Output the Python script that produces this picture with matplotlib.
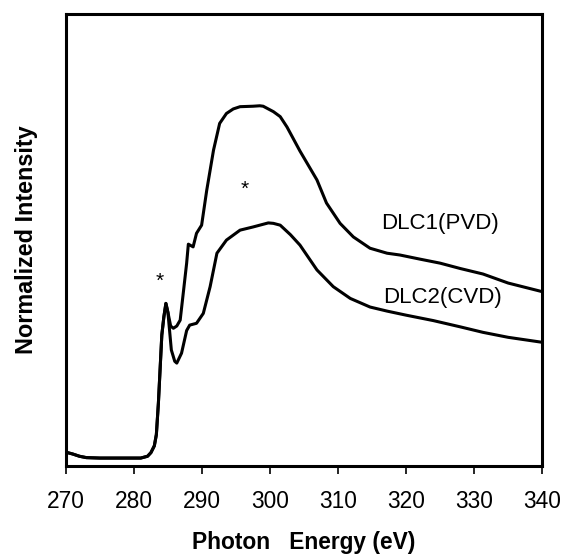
import matplotlib
matplotlib.use("Agg")
import matplotlib.pyplot as plt

plt.rcParams['font.family'] = ['Liberation Sans', 'DejaVu Sans']

# shared pre-edge and pi* peak
energy_common = [270, 271, 272, 273, 275, 278, 281, 282, 282.5, 283, 283.3,
                 283.6, 283.8, 284.1, 284.4, 284.7, 285.0]
int_common = [0.031, 0.027, 0.022, 0.019, 0.018, 0.018, 0.018, 0.022, 0.03,
              0.045, 0.07, 0.14, 0.2, 0.29, 0.33, 0.36, 0.34]

energy_pvd = [285.4, 285.8, 286.3, 286.8, 287.3, 287.75, 288.0, 288.7, 289.2,
              289.95, 290.7, 291.7, 292.6, 293.6, 294.6, 295.6, 297.5, 298.5,
              299.0, 300.5, 301.5, 302.5, 304.4, 306.9, 308.3, 310.3,
              312.25, 314.7, 317.2, 319.1, 322, 325, 328, 331.3, 335, 340]
int_pvd = [0.31, 0.305, 0.31, 0.323, 0.389, 0.449, 0.491, 0.485, 0.515,
           0.533, 0.61, 0.699, 0.758, 0.78, 0.79, 0.795, 0.796, 0.797, 0.796,
           0.784, 0.773, 0.75, 0.697, 0.633, 0.582, 0.537, 0.507,
           0.482, 0.471, 0.467, 0.458, 0.449, 0.437, 0.425, 0.405, 0.386]

energy_cvd = [285.5, 286.0, 286.3, 287.0, 287.75, 288.2, 289.2, 290.2, 291.2,
              292.2, 293.6, 295.6, 297.5, 299.75, 300.5, 301.5, 303.0, 304.4,
              306.9, 309.3, 311.8, 314.7, 317.2, 320, 324, 328, 331.3, 335,
              340]
int_cvd = [0.257, 0.232, 0.228, 0.25, 0.30, 0.312, 0.316, 0.338, 0.397,
           0.471, 0.50, 0.522, 0.529, 0.538, 0.537, 0.533, 0.512, 0.489,
           0.434, 0.397, 0.371, 0.352, 0.343, 0.334, 0.322, 0.308, 0.296,
           0.285, 0.274]

labels = ['DLC1(PVD)', 'DLC2(CVD)']
label_pos = [(325.0, 0.537), (325.4, 0.372)]
star_pos = [(283.8, 0.409), (296.3, 0.613)]
xticks = [270, 280, 290, 300, 310, 320, 330, 340]

fig = plt.figure(figsize=(5.63, 5.59), dpi=100)
ax = fig.add_axes([0.117, 0.166, 0.846, 0.809])

ax.plot(energy_common + energy_pvd, int_common + int_pvd, color='black', lw=2.2)
ax.plot(energy_common + energy_cvd, int_common + int_cvd, color='black', lw=2.2)

for txt, (x, y) in zip(labels, label_pos):
    ax.text(x, y, txt, ha='center', va='center', fontsize=16)
for x, y in star_pos:
    ax.text(x, y, '*', ha='center', va='center', fontsize=15)

ax.set_xlim(270, 340)
ax.set_ylim(0, 1)
ax.set_xticks(xticks)
ax.set_yticks([])
ax.tick_params(axis='x', direction='out', length=6, width=1.2, labelsize=16.4, pad=11)
for s in ax.spines.values():
    s.set_linewidth(2.2)

ax.set_xlabel('Photon   Energy (eV)', fontsize=16.4, fontweight='bold', labelpad=13)
ax.set_ylabel('Normalized Intensity', fontsize=16.8, fontweight='bold', labelpad=20)

fig.savefig('out.png', dpi=100)
